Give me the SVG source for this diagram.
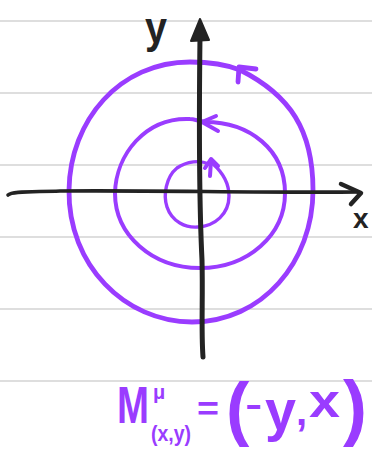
<svg xmlns="http://www.w3.org/2000/svg" width="372" height="451" viewBox="0 0 372 451">
<style>
.rule{stroke:#d3d3d3;stroke-width:1.6}
.ax{fill:none;stroke:#232323;stroke-linecap:round;stroke-linejoin:round}
.pu{fill:none;stroke:#9a3cff;stroke-linecap:round;stroke-linejoin:round}
.lbl{font-family:"Liberation Sans",Arial,sans-serif;font-weight:bold}
.f{fill:#9a3cff;font-family:"Liberation Sans Narrow","Liberation Sans",Arial,sans-serif;font-weight:bold}
</style>
<rect width="372" height="451" fill="#ffffff"/>
<g id="paper">
<line class="rule" x1="0" y1="21" x2="372" y2="21"/>
<line class="rule" x1="0" y1="93" x2="372" y2="93"/>
<line class="rule" x1="0" y1="165" x2="372" y2="165"/>
<line class="rule" x1="0" y1="237" x2="372" y2="237"/>
<line class="rule" x1="0" y1="309" x2="372" y2="309"/>
<line class="rule" x1="0" y1="381" x2="372" y2="381"/>
</g>
<g id="circles">
<g id="outer-circle">
<path class="pu" stroke-width="4.8" d="M190 62 C 120 62 70 120 69 190 C 68 265 125 322 192 322 C 262 322 313 262 313 190 C 313 130 290 95 240 70 C 225 64 208 62 190 62 Z"/>
<polyline class="pu" stroke-width="4.8" points="256,69 239,67 238,82"/>
</g>
<g id="middle-circle">
<path class="pu" stroke-width="4" d="M190 119 C 145 117 116 155 115 193 C 115 235 152 268 200 268 C 248 268 285 235 285 193 C 285 150 250 122 205 122 C 198 121 194 119 190 119 Z"/>
<polyline class="pu" stroke-width="4" points="216,116 202,122 218,131"/>
</g>
<g id="inner-circle">
<path class="pu" stroke-width="3.4" d="M209 164 C 200 160 187 161 177 168 C 166 177 163 195 167 207 C 172 222 186 228 198 227 C 215 226 229 214 229 196 C 229 183 222 172 213 164"/>
<polyline class="pu" stroke-width="4" points="205,168 211,159 218,166"/>
<line class="pu" x1="211" y1="160" x2="210" y2="176" stroke-width="4"/>
</g>
</g>
<g id="axes">
<g id="y-axis">
<path class="ax" stroke-width="5" d="M200 36 C 199 120 199 200 202 260 C 203 300 201 330 203 357"/>
<polygon points="200,19 191,41 209,40" fill="#232323" stroke="#232323" stroke-width="2" stroke-linejoin="round"/>
<text class="lbl" x="145" y="43" font-size="44" fill="#232323" textLength="22" lengthAdjust="spacingAndGlyphs">y</text>
</g>
<g id="x-axis">
<path class="ax" stroke-width="3.6" d="M8 195 C 12 191 30 192 60 191 C 150 190 260 193 358 192"/>
<polyline class="ax" stroke-width="4.5" points="341,184 361,193 351,204"/>
<text class="lbl" x="353" y="228" font-size="28" fill="#232323">x</text>
</g>
</g>
<g id="formula">
<text class="f" x="117" y="423" font-size="52" textLength="32" lengthAdjust="spacingAndGlyphs">M</text>
<text class="f" x="153" y="399" font-size="20">μ</text>
<text class="f" x="151" y="441" font-size="22" textLength="40" lengthAdjust="spacingAndGlyphs">(x,y)</text>
<text class="f" x="197" y="420" font-size="34" textLength="22" lengthAdjust="spacingAndGlyphs">=</text>
<text class="f" x="226" y="432" font-size="70">(</text>
<text class="f" x="246" y="419" font-size="36" textLength="15" lengthAdjust="spacingAndGlyphs">−</text>
<text class="f" x="265" y="430" font-size="58" textLength="31" lengthAdjust="spacingAndGlyphs">y</text>
<text class="f" x="296" y="425" font-size="40">,</text>
<text class="f" x="309" y="417" font-size="46" textLength="31" lengthAdjust="spacingAndGlyphs">x</text>
<text class="f" x="343" y="432" font-size="72">)</text>
</g>
</svg>
